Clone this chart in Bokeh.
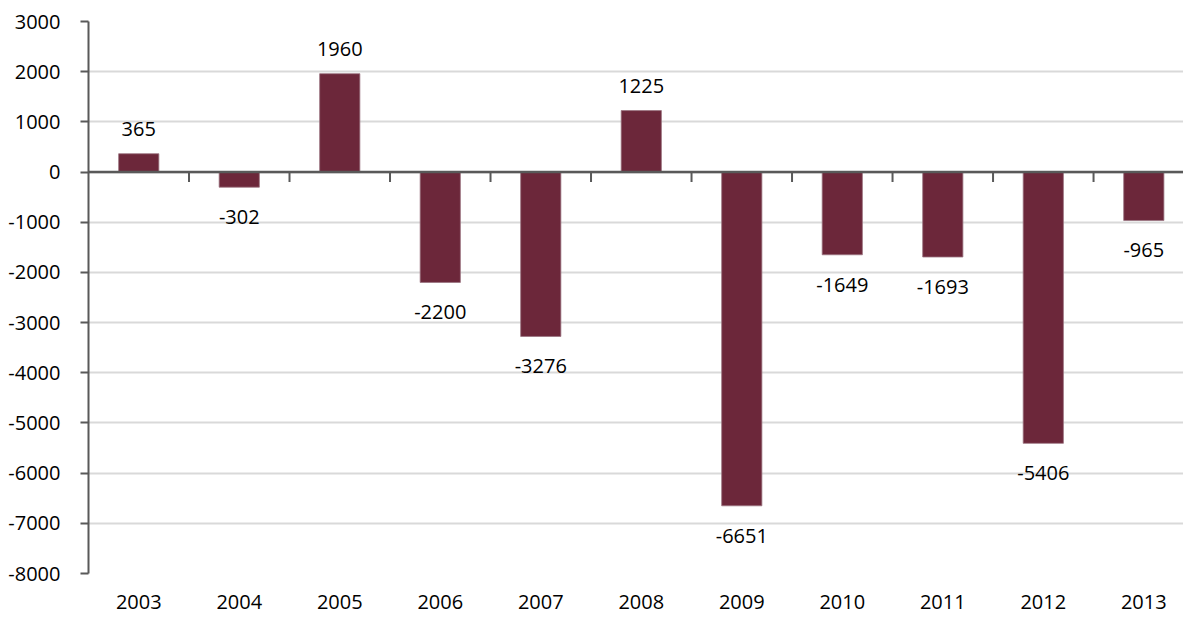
import math
from bokeh.plotting import figure
from bokeh.models import ColumnDataSource, FixedTicker, Span
from bokeh.core.properties import value
from bokeh.embed import file_html
from bokeh.resources import INLINE

years = ["2003", "2004", "2005", "2006", "2007", "2008", "2009", "2010", "2011", "2012", "2013"]
balance = [365, -302, 1960, -2200, -3276, 1225, -6651, -1649, -1693, -5406, -965]
y_ticks = [-8000, -7000, -6000, -5000, -4000, -3000, -2000, -1000, 0, 1000, 2000, 3000]

xs = list(range(1, len(years) + 1))
src = ColumnDataSource(dict(
    x=xs,
    top=balance,
    label=[str(v) for v in balance],
    yoff=[-25 if v >= 0 else 30 for v in balance],
))
bounds = ColumnDataSource(dict(x=[i + 0.5 for i in xs[:-1]], y=[0] * (len(xs) - 1)))

FONT = "Open Sans"
BAR = "#6C273A"
AXIS = "#595959"
FS = "20px"

p = figure(
    frame_width=1095, frame_height=552,
    x_range=(0.5, 11.395), y_range=(-8000, 3000),
    output_backend="svg", toolbar_location=None,
    min_border_left=88, min_border_top=21, min_border_right=0, min_border_bottom=40,
)
p.outline_line_color = None
p.background_fill_color = "white"
p.border_fill_color = "white"

p.vbar(x="x", top="top", bottom=0, width=0.4, source=src,
       fill_color=BAR, line_color="#9a7480", line_width=0.8)

p.add_layout(Span(location=0, dimension="width", line_color=AXIS, line_width=2.5))
p.ray(x="x", y="y", length=10, length_units="screen", angle=-math.pi / 2,
      source=bounds, line_color=AXIS, line_width=2)

p.text(x="x", y="top", text="label", y_offset="yoff", source=src,
       text_align="center", text_baseline="middle",
       text_font=value(FONT), text_font_size=FS, text_color="#000000")

# y axis
p.yaxis.ticker = FixedTicker(ticks=y_ticks)
p.yaxis.major_label_overrides = {t: str(t) for t in y_ticks}
p.yaxis.axis_line_color = AXIS
p.yaxis.axis_line_width = 2
p.yaxis.major_tick_line_color = AXIS
p.yaxis.major_tick_line_width = 2
p.yaxis.major_tick_out = 8
p.yaxis.major_tick_in = 0
p.yaxis.minor_tick_line_color = None
p.yaxis.major_label_text_font = FONT
p.yaxis.major_label_text_font_size = FS
p.yaxis.major_label_text_color = "#000000"
p.yaxis.major_label_standoff = 20

# x axis (category labels at bottom)
p.xaxis.ticker = FixedTicker(ticks=xs)
p.xaxis.major_label_overrides = {x: y for x, y in zip(xs, years)}
p.xaxis.axis_line_color = None
p.xaxis.major_tick_line_color = None
p.xaxis.minor_tick_line_color = None
p.xaxis.major_tick_out = 0
p.xaxis.major_label_standoff = 21
p.xaxis.major_label_text_font = FONT
p.xaxis.major_label_text_font_size = FS
p.xaxis.major_label_text_color = "#000000"

p.xgrid.grid_line_color = None
p.ygrid.ticker = FixedTicker(ticks=y_ticks)
p.ygrid.grid_line_color = "#D9D9D9"
p.ygrid.grid_line_width = 2

open("out.html", "w").write(file_html(p, INLINE))
